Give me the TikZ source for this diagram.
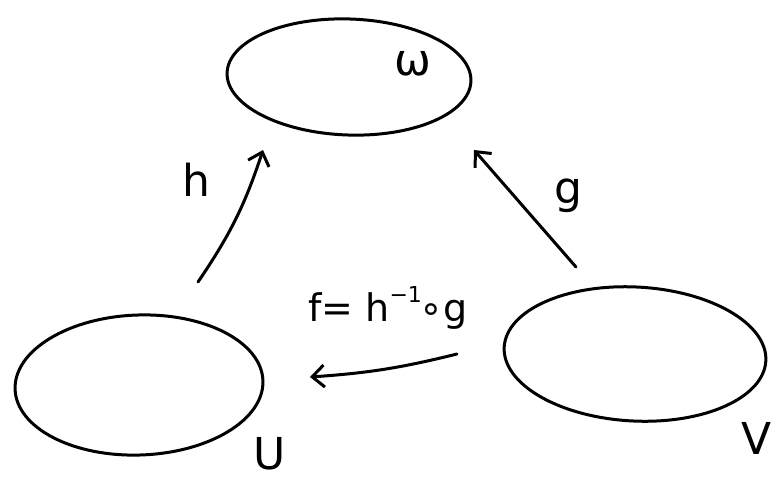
\documentclass[tikz,border=0pt]{standalone}
\usepackage{fontspec}
\setsansfont{DejaVu Sans}
\usetikzlibrary{shapes.geometric,arrows.meta}
\newcommand{\supsmall}[1]{\raisebox{0.5em}{\fontsize{22}{22}\selectfont #1}}
\begin{document}
\begin{tikzpicture}[x=1pt,y=-1pt,
  blob/.style={draw,ellipse,line width=3pt,inner sep=0pt},
  mapto/.style={line width=3pt,line cap=round,-{Straight Barb[length=12pt,width=22pt,line width=3pt]}},
  lbl/.style={font=\fontsize{44}{44}\selectfont\sffamily},
  flbl/.style={font=\fontsize{38}{38}\selectfont\sffamily}]
\useasboundingbox (0,0) rectangle (783,487);
\node[blob,minimum width=244pt,minimum height=116pt,rotate=-2] (W) at (349,77) {};
\node[blob,minimum width=248pt,minimum height=140pt,rotate=2] (U) at (139,385) {};
\node[blob,minimum width=262pt,minimum height=134pt,rotate=-3] (V) at (635,354) {};
\node[lbl] (Wl) at (413,64) {ω};
\node[lbl] (Ul) at (270,454) {U};
\node[lbl] (Vl) at (757,438) {V};
\coordinate (h0) at (198,282);
\coordinate (h1) at (263,150);
\coordinate (g0) at (576,267);
\coordinate (g1) at (474,150);
\coordinate (f0) at (457,354);
\coordinate (f1) at (310,377);
\draw[mapto] (h0) to[bend right=8] (h1);
\draw[mapto] (g0) -- (g1);
\draw[mapto] (f0) to[bend left=5] (f1);
\node[lbl] (hl) at (196,180) {h};
\node[lbl] (gl) at (568,196) {g};
\node[flbl] (fl) at (388,308) {f= h\supsmall{−1}\kern-2pt∘g};
\end{tikzpicture}
\end{document}
